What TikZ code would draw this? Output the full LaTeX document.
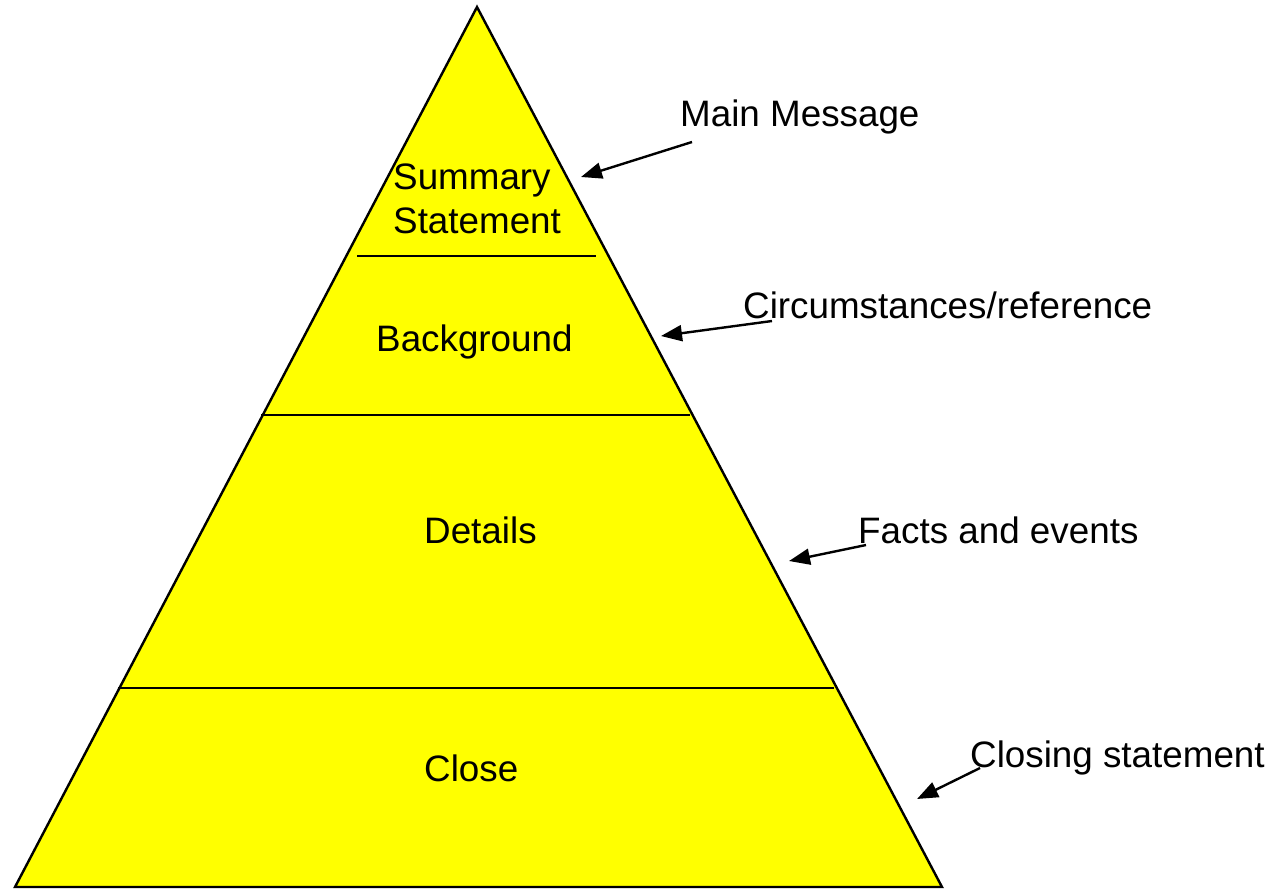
\documentclass[tikz,border=0pt]{standalone}
\usepackage{fontspec}
\setmainfont{Liberation Sans}
\usetikzlibrary{arrows.meta}
\definecolor{pyramidyellow}{RGB}{255,255,0}

\begin{document}
\begin{tikzpicture}[x=1pt, y=-1pt]
	\tikzstyle{label}=[anchor=base west, inner sep=0pt, font=\fontsize{36.8}{44}\selectfont]
	\tikzstyle{divider}=[draw=black, line width=1.6pt]
	\tikzstyle{pointer}=[draw=black, line width=2.4pt, -{Triangle[length=21pt,width=16pt]}]

	\useasboundingbox (0,0) rectangle (1279,889);

	% pyramid
	\coordinate (top) at (477,7);
	\coordinate (bl) at (15,887);
	\coordinate (br) at (942,887);
	\fill[pyramidyellow] (top) -- (br) -- (bl) -- cycle;
	\draw[line width=2.4pt, line join=miter] (top) -- (br) -- (bl) -- cycle;

	\draw[divider] (357,256) -- (596,256);
	\draw[divider] (261,415) -- (690,415);
	\draw[divider] (118,688) -- (834,688);

	\draw node[label, align=left] at (393,233) (summary) {Summary\\Statement};
	\draw node[label] at (376,351) (background) {Background};
	\draw node[label] at (424,543) (details) {Details};
	\draw node[label] at (424,781) (close) {Close};

	\draw node[label] at (680,126) (main) {Main Message};
	\draw node[label] at (743,318) (circ) {Circumstances/reference};
	\draw node[label] at (858,543) (facts) {Facts and events};
	\draw node[label] at (970,767) (closing) {Closing statement};

	\coordinate (main-tail) at (692,142);
	\coordinate (main-head) at (581,177);
	\coordinate (circ-tail) at (772,321);
	\coordinate (circ-head) at (661,336);
	\coordinate (facts-tail) at (866,545);
	\coordinate (facts-head) at (789,561);
	\coordinate (closing-tail) at (980,768);
	\coordinate (closing-head) at (917,799);

	\draw[pointer] (main-tail) -- (main-head);
	\draw[pointer] (circ-tail) -- (circ-head);
	\draw[pointer] (facts-tail) -- (facts-head);
	\draw[pointer] (closing-tail) -- (closing-head);
\end{tikzpicture}
\end{document}
